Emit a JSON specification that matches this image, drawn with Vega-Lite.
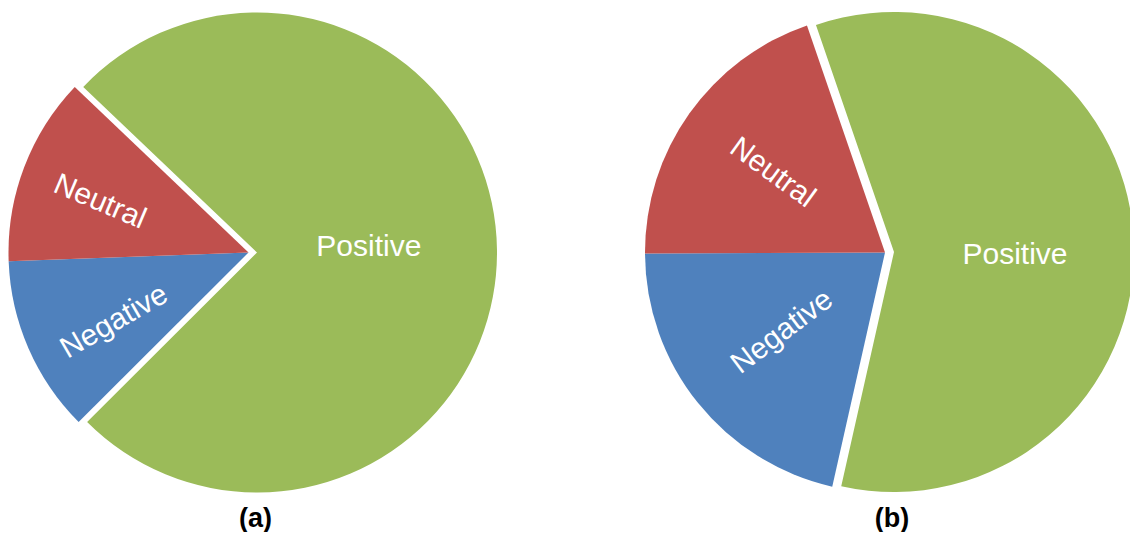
{
  "$schema": "https://vega.github.io/schema/vega-lite/v6.json",
  "padding": 0,
  "spacing": 139.5,
  "config": {"view": {"stroke": null}, "text": {"font": "Liberation Sans"}, "title": {"font": "Liberation Sans"}},
  "hconcat": [
    {
      "width": 497,
      "height": 505,
      "title": {"text": "(a)", "orient": "bottom", "anchor": "middle", "fontSize": 27, "fontWeight": "bold", "color": "#000000", "offset": 1, "dx": 7},
      "data": {"values": [
        {"label": "Negative", "value": 11.9},
        {"label": "Neutral", "value": 12.7},
        {"label": "Positive", "value": 75.4}
      ]},
      "encoding": {
        "theta": {"field": "value", "type": "quantitative", "stack": true, "scale": {"domain": [0, 100], "range": [3.928, 10.2112]}},
        "order": {"field": "label", "sort": "ascending"}
      },
      "layer": [
        {
          "mark": {"type": "arc", "radius": 240},
          "encoding": {
            "color": {"field": "label", "type": "nominal", "scale": {"domain": ["Negative", "Neutral", "Positive"], "range": ["#4F81BD", "#C0504D", "#9BBB59"]}, "legend": null},
            "opacity": {"condition": {"test": "datum.label === 'Positive'", "value": 0}, "value": 1}
          }
        },
        {
          "mark": {"type": "arc", "radius": 240, "xOffset": 8.5},
          "encoding": {
            "color": {"field": "label", "type": "nominal", "scale": {"domain": ["Negative", "Neutral", "Positive"], "range": ["#4F81BD", "#C0504D", "#9BBB59"]}, "legend": null},
            "opacity": {"condition": {"test": "datum.label === 'Positive'", "value": 1}, "value": 0}
          }
        },
        {
          "mark": {"type": "text", "radius": 157, "thetaOffset": -0.034, "angle": 23, "fontSize": 30, "color": "#FFFFFF", "align": "center", "baseline": "middle"},
          "encoding": {
            "detail": {"field": "label"},
            "text": {"field": "label"},
            "opacity": {"condition": {"test": "datum.label === 'Neutral'", "value": 1}, "value": 0}
          }
        },
        {
          "mark": {"type": "text", "radius": 151, "thetaOffset": -0.065, "angle": -30, "fontSize": 30, "color": "#FFFFFF", "align": "center", "baseline": "middle"},
          "encoding": {
            "detail": {"field": "label"},
            "text": {"field": "label"},
            "opacity": {"condition": {"test": "datum.label === 'Negative'", "value": 1}, "value": 0}
          }
        },
        {
          "mark": {"type": "text", "radius": 120.5, "thetaOffset": -0.033, "angle": 0, "fontSize": 30, "color": "#FFFFFF", "align": "center", "baseline": "middle"},
          "encoding": {
            "detail": {"field": "label"},
            "text": {"field": "label"},
            "opacity": {"condition": {"test": "datum.label === 'Positive'", "value": 1}, "value": 0}
          }
        }
      ]
    },
    {
      "width": 497,
      "height": 505,
      "title": {"text": "(b)", "orient": "bottom", "anchor": "middle", "fontSize": 27, "fontWeight": "bold", "color": "#000000", "offset": 1, "dx": 7},
      "data": {"values": [
        {"label": "Negative", "value": 21.4},
        {"label": "Neutral", "value": 19.8},
        {"label": "Positive", "value": 58.8}
      ]},
      "encoding": {
        "theta": {"field": "value", "type": "quantitative", "stack": true, "scale": {"domain": [0, 100], "range": [3.3633, 9.6465]}},
        "order": {"field": "label", "sort": "ascending"}
      },
      "layer": [
        {
          "mark": {"type": "arc", "radius": 240},
          "encoding": {
            "color": {"field": "label", "type": "nominal", "scale": {"domain": ["Negative", "Neutral", "Positive"], "range": ["#4F81BD", "#C0504D", "#9BBB59"]}, "legend": null},
            "opacity": {"condition": {"test": "datum.label === 'Positive'", "value": 0}, "value": 1}
          }
        },
        {
          "mark": {"type": "arc", "radius": 240, "xOffset": 9, "yOffset": -0.5},
          "encoding": {
            "color": {"field": "label", "type": "nominal", "scale": {"domain": ["Negative", "Neutral", "Positive"], "range": ["#4F81BD", "#C0504D", "#9BBB59"]}, "legend": null},
            "opacity": {"condition": {"test": "datum.label === 'Positive'", "value": 1}, "value": 0}
          }
        },
        {
          "mark": {"type": "text", "radius": 138, "thetaOffset": 0.0, "angle": 36, "fontSize": 30, "color": "#FFFFFF", "align": "center", "baseline": "middle"},
          "encoding": {
            "detail": {"field": "label"},
            "text": {"field": "label"},
            "opacity": {"condition": {"test": "datum.label === 'Neutral'", "value": 1}, "value": 0}
          }
        },
        {
          "mark": {"type": "text", "radius": 130, "thetaOffset": 0.02, "angle": -37, "fontSize": 30, "color": "#FFFFFF", "align": "center", "baseline": "middle"},
          "encoding": {
            "detail": {"field": "label"},
            "text": {"field": "label"},
            "opacity": {"condition": {"test": "datum.label === 'Negative'", "value": 1}, "value": 0}
          }
        },
        {
          "mark": {"type": "text", "radius": 130, "thetaOffset": 0.076, "angle": 0, "fontSize": 30, "color": "#FFFFFF", "align": "center", "baseline": "middle"},
          "encoding": {
            "detail": {"field": "label"},
            "text": {"field": "label"},
            "opacity": {"condition": {"test": "datum.label === 'Positive'", "value": 1}, "value": 0}
          }
        }
      ]
    }
  ]
}
